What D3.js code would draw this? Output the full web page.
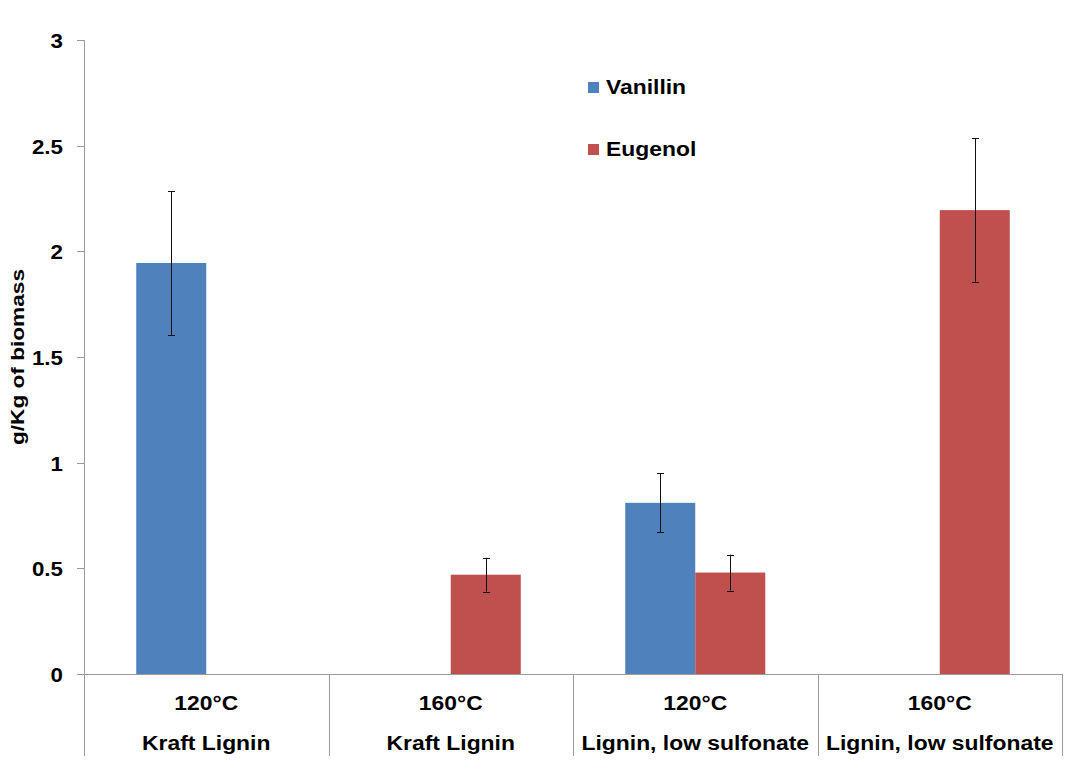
<!DOCTYPE html>
<html><head><meta charset="utf-8">
<script src="https://cdn.jsdelivr.net/npm/d3@7"></script>
<style>body{margin:0;background:#fff;} svg{display:block;font-family:"Liberation Sans",Arial,sans-serif;}</style>
</head><body>
<script>
const categories = ["120°C|Kraft Lignin","160°C|Kraft Lignin","120°C|Lignin, low sulfonate","160°C|Lignin, low sulfonate"];
const temps = ["120°C","160°C","120°C","160°C"];
const materials = ["Kraft Lignin","Kraft Lignin","Lignin, low sulfonate","Lignin, low sulfonate"];
const series = ["Vanillin","Eugenol"];
const vanillin = [1.945, 0, 0.81, 0];
const vanillinErr = [0.34, 0, 0.14, 0];
const eugenol = [0, 0.47, 0.48, 2.195];
const eugenolErr = [0, 0.08, 0.085, 0.34];
const colors = ["#4F81BD","#C0504D"];
const yTicks = [0,0.5,1,1.5,2,2.5,3];
const yTickLabels = ["0","0.5","1","1.5","2","2.5","3"];

(function(){
const W=1067,H=774;
const svg=d3.select("body").append("svg").attr("width",W).attr("height",H);
const pL=84,pR=1062,pT=40,pB=674;
const y=d3.scaleLinear().domain([0,3]).range([pB,pT]);
const x0=d3.scaleBand().domain(categories).range([pL,pR]).paddingInner(0).paddingOuter(0);
const x1=d3.scaleBand().domain(series).range([0,x0.bandwidth()]).paddingInner(0).paddingOuter(0.746);
const SX=1.09;
function txt(x,yy,str,size,anchor){
  return svg.append("text").attr("transform",`translate(${x},${yy}) scale(${SX},1)`)
    .attr("text-anchor",anchor||"start").attr("font-size",size).attr("font-weight","bold").attr("fill","#000").text(str);
}

const data=[vanillin,eugenol], errs=[vanillinErr,eugenolErr];

const axisColor="#9a9a9a";
svg.append("line").attr("x1",pL+0.5).attr("x2",pL+0.5).attr("y1",pT).attr("y2",pB).attr("stroke",axisColor);
yTicks.forEach((t,i)=>{
  const yy=Math.round(y(t))+0.5;
  svg.append("line").attr("x1",pL-7).attr("x2",pL).attr("y1",yy).attr("y2",yy).attr("stroke",axisColor);
  txt(63,yy+7.5,yTickLabels[i],20.5,"end");
});

series.forEach((s,si)=>{
  categories.forEach((c,ci)=>{
    const v=data[si][ci];
    if(v<=0) return;
    svg.append("rect").attr("x",x0(c)+x1(s)).attr("y",y(v)).attr("width",x1.bandwidth()).attr("height",y(0)-y(v)).attr("fill",colors[si]);
    const e=errs[si][ci];
    const cx=Math.round(x0(c)+x1(s)+x1.bandwidth()/2)+0.5;
    const g=svg.append("g").attr("stroke","#111").attr("stroke-width",1);
    g.append("line").attr("x1",cx).attr("x2",cx).attr("y1",y(v+e)).attr("y2",y(v-e));
    g.append("line").attr("x1",cx-3.5).attr("x2",cx+3.5).attr("y1",Math.round(y(v+e))+0.5).attr("y2",Math.round(y(v+e))+0.5);
    g.append("line").attr("x1",cx-3.5).attr("x2",cx+3.5).attr("y1",Math.round(y(v-e))+0.5).attr("y2",Math.round(y(v-e))+0.5);
  });
});

svg.append("line").attr("x1",pL).attr("x2",pR).attr("y1",pB+0.5).attr("y2",pB+0.5).attr("stroke",axisColor);
const bounds=categories.map(c=>x0(c)).concat([pR]);
bounds.forEach(b=>{
  svg.append("line").attr("x1",Math.round(b)+0.5).attr("x2",Math.round(b)+0.5).attr("y1",pB).attr("y2",756).attr("stroke",axisColor);
});
categories.forEach((c,i)=>{
  const cx=x0(c)+x0.bandwidth()/2;
  txt(cx,710,temps[i],21,"middle");
  txt(cx,750,materials[i],21,"middle");
});

svg.append("text").attr("transform","translate(24,357) rotate(-90)").attr("text-anchor","middle")
  .attr("font-size",18.5).attr("font-weight","bold").attr("textLength",176).attr("lengthAdjust","spacingAndGlyphs").text("g/Kg of biomass");

const legY=[82,144];
series.forEach((s,i)=>{
  svg.append("rect").attr("x",588).attr("y",legY[i]).attr("width",11).attr("height",11).attr("fill",colors[i]);
  txt(606,legY[i]+12,s,21,"start");
});
})();
</script>
</body></html>
